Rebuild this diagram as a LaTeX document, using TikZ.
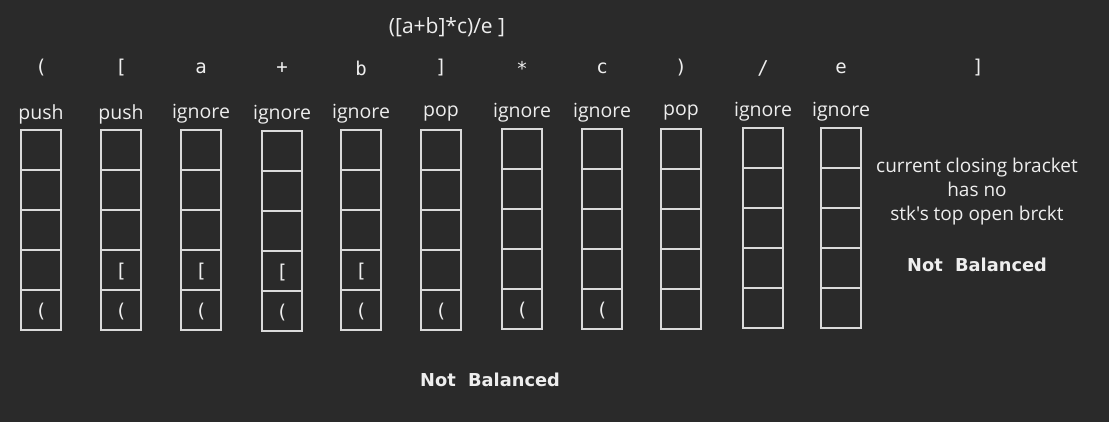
\documentclass[tikz,border=0pt]{standalone}
\usepackage{fontspec}
\newfontfamily\labelfont{Open Sans}[Ligatures=TeXOff]
\newfontfamily\symfont{DejaVu Sans Mono}
\newfontfamily\verdictfont{DejaVu Sans}
\definecolor{bgdark}{HTML}{2A2A2A}
\definecolor{inkwhite}{HTML}{EEEEEE}
\definecolor{cellline}{HTML}{DADADA}
\tikzset{
  cell/.style={draw=cellline, line width=1.2pt, minimum width=40pt, minimum height=40pt, inner sep=0pt},
  sym/.style={text=inkwhite, inner sep=0pt, font=\symfont\fontsize{19}{19}\selectfont},
  act/.style={text=inkwhite, inner sep=0pt, font=\labelfont\fontsize{19.5}{24}\selectfont},
  verdict/.style={text=inkwhite, inner sep=0pt, font=\verdictfont\bfseries\fontsize{17.8}{18}\selectfont}
}
\begin{document}
\begin{tikzpicture}[x=1pt, y=-1pt]
\fill[bgdark] (0,0) rectangle (1109,422);
\useasboundingbox (0,0) rectangle (1109,422);

\node[act, font=\labelfont\fontsize{21}{24}\selectfont] (title) at (447,27) {([a+b]*c)/e ]};

% one stack per scanned character
\foreach \col/\cx/\ty/\ch/\act/\n in {1/41/130/{(}/push/1, 2/121/130/{[}/push/2,
    3/201/130/a/ignore/2, 4/282/131/+/ignore/2, 5/361/130/b/ignore/2,
    6/441/130/{]}/pop/1, 7/522/129/*/ignore/1, 8/602/129/c/ignore/1,
    9/681/129/{)}/pop/0, 10/763/128/{/}/ignore/0, 11/841/128/e/ignore/0}
{
  \node[sym] (h\col) at (\cx,68) {\ch};
  \node[act] (a\col) at (\cx,\ty-16) {\act};
  \foreach \r in {1,...,5}
    \node[cell] (s\col-\r) at (\cx,\ty+40*\r-20) {};
  \ifnum\n>0 \node[sym] (open\col) at ([yshift=-2pt]s\col-5) {(};\fi
  \ifnum\n>1 \node[sym] (sq\col) at ([yshift=-2pt]s\col-4) {[};\fi
}

\node[sym] (h12) at (978,68) {]};
\node[act, align=center, font=\labelfont\fontsize{19}{24}\selectfont] (msg) at (977,192)
  {current closing bracket\\has no\\stk's top open brckt};
\node[verdict] (verdict1) at (977,265) {Not\ \ Balanced};
\node[verdict] (verdict2) at (490,380) {Not\ \ Balanced};
\end{tikzpicture}
\end{document}
